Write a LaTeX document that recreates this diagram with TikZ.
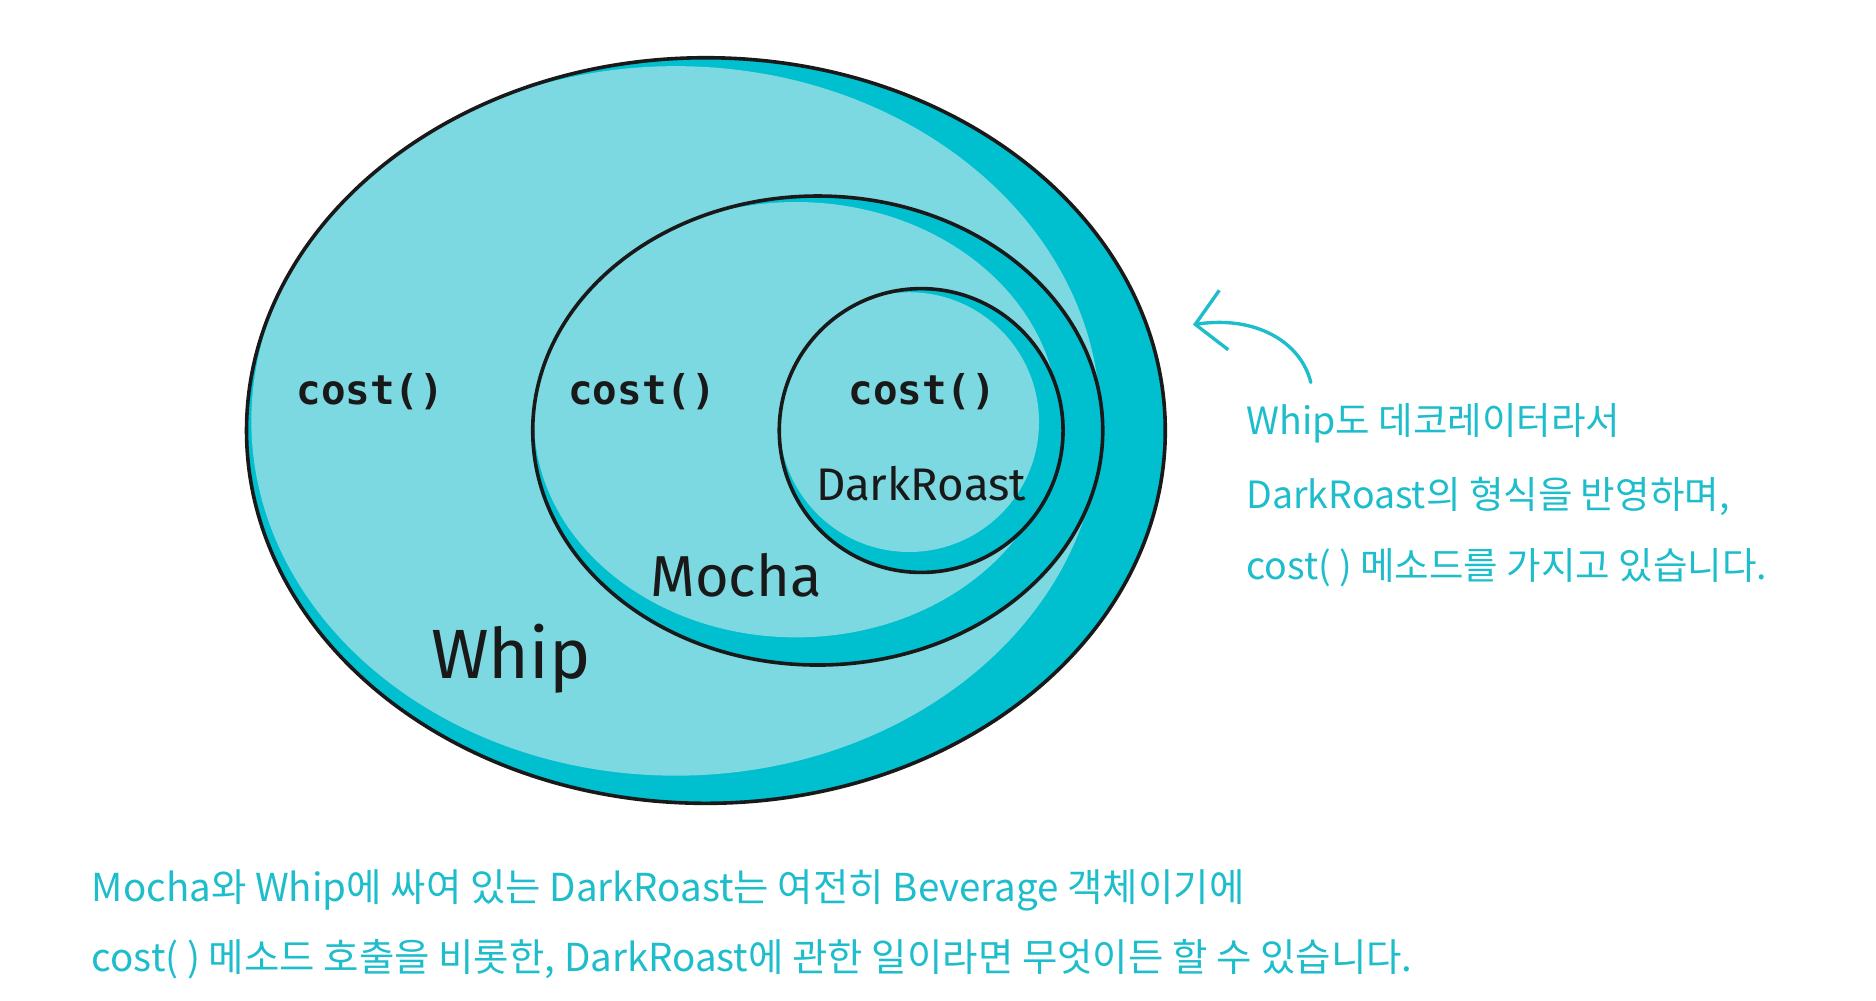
\documentclass[tikz,border=0pt]{standalone}
\usepackage{fontspec}
\usetikzlibrary{arrows.meta}
\newfontfamily\krfont{Noto Sans CJK KR}
\newfontfamily\monofont{DejaVu Sans Mono}
\newfontfamily\handfont{Fira Sans}
\definecolor{darkcy}{HTML}{00BFCF}
\definecolor{lightcy}{HTML}{7CD8E1}
\definecolor{textcy}{HTML}{1DBDCB}
\tikzset{
  outline/.style={draw=black!90, line width=1.5pt},
  costlbl/.style={font=\monofont\bfseries\fontsize{17}{20}\selectfont, text=black!90, inner sep=0pt},
  namelbl/.style={font=\handfont, text=black!90, inner sep=0pt},
  note/.style={font=\krfont\fontsize{15.6}{18}\selectfont, text=textcy, anchor=west, inner sep=0pt},
  bignote/.style={note, font=\krfont\fontsize{16}{19}\selectfont},
}
\begin{document}
\begin{tikzpicture}[x=0.5pt, y=-0.5pt]
\useasboundingbox (0,0) rectangle (1560,832);
% Whip
\fill[darkcy] (587,358) ellipse [x radius=382, y radius=310];
\begin{scope}
  \clip (587,358) ellipse [x radius=382, y radius=310];
  \fill[lightcy] (562,350) ellipse [x radius=353, y radius=295];
\end{scope}
\draw[outline] (587,358) ellipse [x radius=382, y radius=310];
% Mocha
\fill[darkcy] (680,358) ellipse [x radius=237, y radius=195];
\begin{scope}
  \clip (680,358) ellipse [x radius=237, y radius=195];
  \fill[lightcy] (662,349) ellipse [x radius=218, y radius=181];
\end{scope}
\draw[outline] (680,358) ellipse [x radius=237, y radius=195];
% DarkRoast
\fill[darkcy] (766,358) ellipse [x radius=118, y radius=118];
\begin{scope}
  \clip (766,358) ellipse [x radius=118, y radius=118];
  \fill[lightcy] (756,351) ellipse [x radius=108, y radius=108];
\end{scope}
\draw[outline] (766,358) ellipse [x radius=118, y radius=118];
% labels
\node[costlbl] (c1) at (308,326) {cost()};
\node[costlbl] (c2) at (534,326) {cost()};
\node[costlbl] (c3) at (767,326) {cost()};
\node[namelbl, font=\handfont\fontsize{19}{22}\selectfont] (dr) at (766,402) {DarkRoast};
\node[namelbl, font=\handfont\fontsize{24}{28}\selectfont] (mo) at (612,478) {Mocha};
\node[namelbl, font=\handfont\fontsize{29}{32}\selectfont] (wh) at (425,548) {Whip};
% notes
\node[note] (n1) at (1036,352) {Whip도 데코레이터라서};
\node[note] (n2) at (1036,413) {DarkRoast의 형식을 반영하며,};
\node[note] (n3) at (1036,472) {cost( ) 메소드를 가지고 있습니다.};
\node[bignote] (b1) at (76,740) {Mocha와 Whip에 싸여 있는 DarkRoast는 여전히 Beverage 객체이기에};
\node[bignote] (b2) at (76,798) {cost( ) 메소드 호출을 비롯한, DarkRoast에 관한 일이라면 무엇이든 할 수 있습니다.};
% arrow
\coordinate (atail) at (1090,318);
\coordinate (atip) at (992,270);
\draw[textcy, line width=1.4pt, line cap=round, -{Straight Barb[length=12pt, width=25pt, line width=1.4pt]}]
  (atail) .. controls (1082,285) and (1045,262) .. (atip);
\end{tikzpicture}
\end{document}
